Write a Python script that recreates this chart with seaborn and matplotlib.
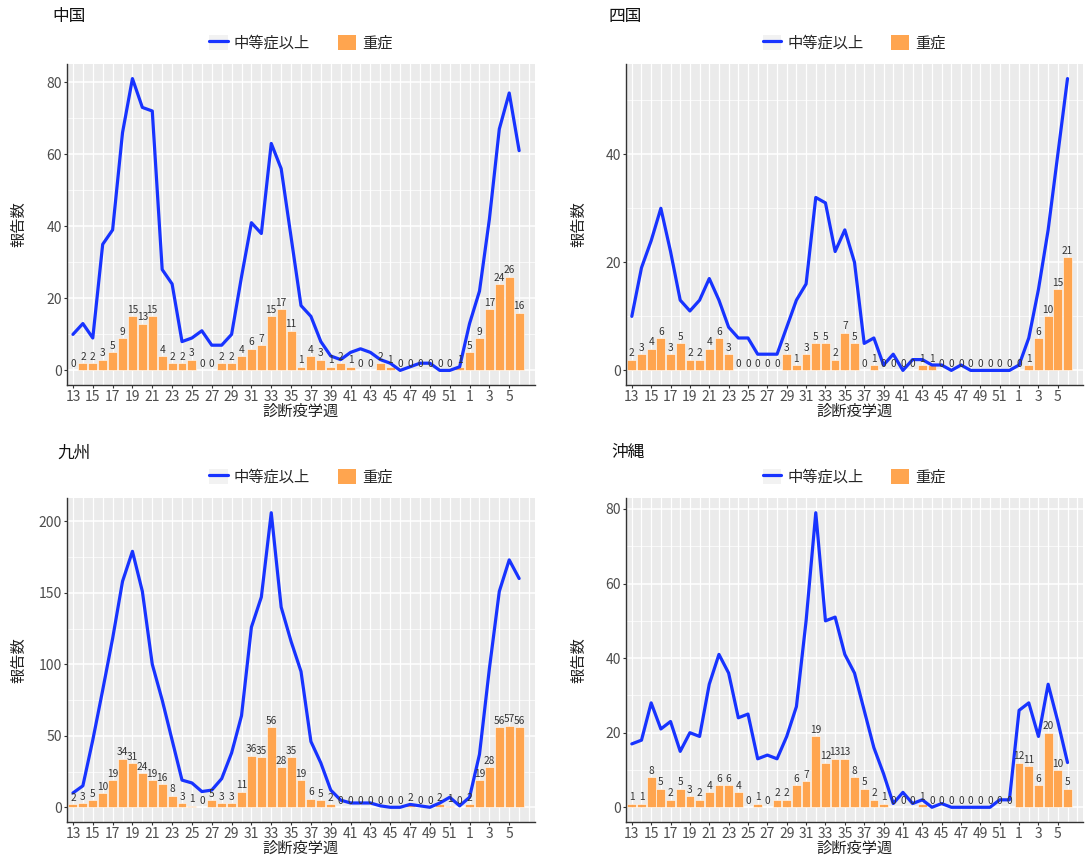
import numpy as np
import pandas as pd
import matplotlib
matplotlib.use("Agg")
import matplotlib.pyplot as plt
from matplotlib.lines import Line2D
from matplotlib.patches import Patch
from matplotlib.legend_handler import HandlerTuple
from matplotlib.ticker import MultipleLocator
import seaborn as sns

# Diagnosis week axis: weeks 13-52, then 1-7 of the following year
weeks = list(range(13, 53)) + list(range(1, 8))
tick_weeks = list(range(13, 53, 2)) + [1, 3, 5]

# Weekly counts per region (week 13 .. week 6)
chugoku_moderate = [10, 13, 9, 35, 39, 66, 81, 73, 72, 28,
                    24, 8, 9, 11, 7, 7, 10, 26, 41, 38,
                    63, 56, 37, 18, 15, 8, 4, 3, 5, 6,
                    5, 3, 2, 0, 1, 2, 2, 0, 0, 1,
                    13, 22, 42, 67, 77, 61]
chugoku_severe = [0, 2, 2, 3, 5, 9, 15, 13, 15, 4,
                  2, 2, 3, 0, 0, 2, 2, 4, 6, 7,
                  15, 17, 11, 1, 4, 3, 1, 2, 1, 0,
                  0, 2, 1, 0, 0, 0, 0, 0, 0, 1,
                  5, 9, 17, 24, 26, 16]

shikoku_moderate = [10, 19, 24, 30, 22, 13, 11, 13, 17, 13,
                    8, 6, 6, 3, 3, 3, 8, 13, 16, 32,
                    31, 22, 26, 20, 5, 6, 1, 3, 0, 2,
                    2, 1, 1, 0, 1, 0, 0, 0, 0, 0,
                    1, 6, 15, 26, 40, 54]
shikoku_severe = [2, 3, 4, 6, 3, 5, 2, 2, 4, 6,
                  3, 0, 0, 0, 0, 0, 3, 1, 3, 5,
                  5, 2, 7, 5, 0, 1, 0, 0, 0, 0,
                  1, 1, 0, 0, 0, 0, 0, 0, 0, 0,
                  0, 1, 6, 10, 15, 21]

kyushu_moderate = [10, 15, 47, 82, 118, 158, 179, 151, 100, 75,
                   47, 19, 17, 11, 12, 20, 38, 64, 126, 147,
                   206, 140, 116, 95, 46, 31, 12, 5, 3, 3,
                   3, 1, 0, 0, 2, 1, 0, 3, 7, 1,
                   7, 37, 97, 151, 173, 160]
kyushu_severe = [2, 3, 5, 10, 19, 34, 31, 24, 19, 16,
                 8, 3, 1, 0, 5, 3, 3, 11, 36, 35,
                 56, 28, 35, 19, 6, 5, 2, 0, 0, 0,
                 0, 0, 0, 0, 2, 0, 0, 2, 1, 0,
                 2, 19, 28, 56, 57, 56]

okinawa_moderate = [17, 18, 28, 21, 23, 15, 20, 19, 33, 41,
                    36, 24, 25, 13, 14, 13, 19, 27, 50, 79,
                    50, 51, 41, 36, 26, 16, 9, 1, 4, 1,
                    2, 0, 1, 0, 0, 0, 0, 0, 2, 2,
                    26, 28, 19, 33, 23, 12]
okinawa_severe = [1, 1, 8, 5, 2, 5, 3, 2, 4, 6,
                  6, 4, 0, 1, 0, 2, 2, 6, 7, 19,
                  12, 13, 13, 8, 5, 2, 1, 0, 0, 0,
                  1, 0, 0, 0, 0, 0, 0, 0, 0, 0,
                  12, 11, 6, 20, 10, 5]

regions = ["中国", "四国", "九州", "沖縄"]
moderate = [chugoku_moderate, shikoku_moderate, kyushu_moderate, okinawa_moderate]
severe = [chugoku_severe, shikoku_severe, kyushu_severe, okinawa_severe]
y_steps = [20, 20, 50, 20]

LINE_C = "#1733FF"
BAR_C = "#FFA54F"
BG = "#EBEBEB"
TXT = "#4D4D4D"

sns.set_theme(style="white")
plt.rcParams["font.family"] = ["Noto Sans CJK JP", "DejaVu Sans"]

W, H = 1087, 856
fig = plt.figure(figsize=(W / 100, H / 100), dpi=100)

# panel rectangles in pixels: left, top, right, bottom
rects = [(67, 64, 535, 385), (626, 64, 1083, 385),
         (67, 498, 535, 822), (626, 498, 1083, 822)]
title_pos = [(52, 17), (608, 17), (57, 453), (611, 453)]
ylabel_x = [27, 587, 27, 587]

n_cat = len(weeks)
pos_all = np.arange(n_cat)

for i, region in enumerate(regions):
    l, t, r, b = rects[i]
    ax = fig.add_axes([l / W, 1 - b / H, (r - l) / W, (b - t) / H])
    ax.set_facecolor(BG)

    n = len(severe[i])
    df = pd.DataFrame({"pos": pos_all[:n], "moderate": moderate[i], "severe": severe[i]})

    sns.barplot(data=df, x="pos", y="severe", native_scale=True, width=0.9,
                color=BAR_C, saturation=1, edgecolor="white", linewidth=0.4,
                ax=ax, zorder=2)
    sns.lineplot(data=df, x="pos", y="moderate", color=LINE_C, linewidth=2.3,
                 ax=ax, legend=False, zorder=3)

    for p, v in zip(df["pos"], df["severe"]):
        ax.annotate(str(v), (p, v), xytext=(0, 1), textcoords="offset points",
                    ha="center", va="bottom", fontsize=7.3, color="#333333",
                    zorder=4)

    ymax = max(max(moderate[i]), max(severe[i]))
    ax.set_ylim(-0.05 * ymax, ymax * 1.05)
    ax.set_xlim(-0.6, n_cat - 1 + 0.6)

    # grid: one vertical line per week, major/minor horizontals
    step = y_steps[i]
    ax.yaxis.set_major_locator(MultipleLocator(step))
    ax.yaxis.set_minor_locator(MultipleLocator(step / 2))
    for p in pos_all:
        ax.axvline(p, color="white", linewidth=0.9, zorder=0)
    ax.grid(axis="y", which="major", color="white", linewidth=1.1, zorder=0)
    ax.grid(axis="y", which="minor", color="white", linewidth=0.5, zorder=0)
    ax.set_axisbelow(True)

    tick_pos = [weeks.index(w) for w in tick_weeks]
    ax.set_xticks(tick_pos)
    ax.set_xticklabels([str(w) for w in tick_weeks])
    ax.tick_params(axis="both", which="major", length=2.5, width=0.8,
                   color="#333333", labelcolor=TXT, labelsize=10, pad=1,
                   bottom=True, left=True)
    ax.tick_params(axis="both", which="minor", length=0)

    for s in ["top", "right"]:
        ax.spines[s].set_visible(False)
    for s in ["left", "bottom"]:
        ax.spines[s].set_color("#333333")
        ax.spines[s].set_linewidth(1.0)

    ax.set_xlabel("診断疫学週", fontsize=11, color="#222222", labelpad=-1)
    ax.set_ylabel("報告数", fontsize=11, color="#222222")
    ax.yaxis.set_label_coords((ylabel_x[i] - l) / (r - l), 0.5)

    handles = [(Patch(facecolor="#F2F2F2", edgecolor="none"),
                Line2D([], [], color=LINE_C, linewidth=2.3)),
               Patch(facecolor=BAR_C, edgecolor="none")]
    ax.legend(handles, ["中等症以上", "重症"],
              handler_map={tuple: HandlerTuple(ndivide=1, pad=0)},
              loc="center", bbox_to_anchor=(0.5, 1 + 21 / (b - t)), ncol=2,
              frameon=False, fontsize=11, handlelength=1.2, handleheight=1.2,
              handletextpad=0.4, columnspacing=1.8, borderaxespad=0)

    tx, ty = title_pos[i]
    fig.text(tx / W, 1 - ty / H, region, fontsize=12, color="#111111",
             ha="left", va="center")

fig.savefig("out.png", dpi=100, facecolor="white")
